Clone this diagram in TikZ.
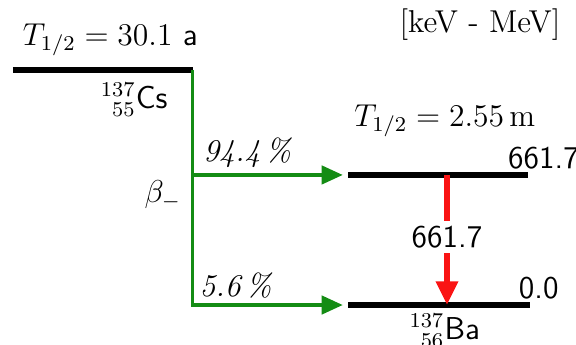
\documentclass[tikz,border=0pt]{standalone}
\usepackage{amsmath,amssymb}
\usepackage{tikz}
\usetikzlibrary{arrows.meta,positioning,calc}
\definecolor{betagreen}{RGB}{20,140,20}
\definecolor{gammared}{RGB}{250,20,20}

\begin{document}
\begin{tikzpicture}[
    every node/.style={font=\normalsize},
    level/.style={line width=2pt, black},
    betaline/.style={line width=1.2pt, betagreen, -{Triangle[length=8pt,width=7pt]}, shorten >=2pt},
    gammaline/.style={line width=2.4pt, gammared, -{Triangle[length=9pt,width=8pt]}}
]
\useasboundingbox (0,0) rectangle (7.68,4.6);

% Energy levels
\coordinate (csL) at (0.17,3.667);
\coordinate (csR) at (2.57,3.667);
\coordinate (ba1L) at (4.64,2.267);
\coordinate (ba1R) at (7.04,2.267);
\coordinate (ba0L) at (4.64,0.533);
\coordinate (ba0R) at (7.07,0.533);
\draw[level] (csL) -- (csR);
\draw[level] (ba1L) -- (ba1R);
\draw[level] (ba0L) -- (ba0R);

% Level labels
\node (csT) at (1.47,4.07) {\large $T_{1/2} = 30.1$ \textsf{a}};
\node (csN) at (1.79,3.27) {\large $^{137}_{\phantom{1}55}$\textsf{Cs}};
\node (baT) at (5.93,2.99) {\large $T_{1/2} = 2.55\,\mathrm{m}$};
\node (baN) at (5.93,0.19) {\large $^{137}_{\phantom{1}56}$\textsf{Ba}};
\node[anchor=south east, inner sep=1pt] (e1) at ($(ba1R)+(0.72,0.04)$) {\large\textsf{661.7}};
\node[anchor=south east, inner sep=1pt] (e0) at ($(ba0R)+(0.42,0.04)$) {\large\textsf{0.0}};
\node (unit) at (6.4,4.27) {\large [keV - MeV]};

% Beta branches
\draw[betaline] (csR) |- (ba0L);
\draw[betaline] (csR |- ba1L) -- (ba1L);
\node[anchor=south west, inner sep=1pt] (p1) at ($(csR |- ba1L)+(0.1,0.05)$) {\large\textit{94.4\,\%}};
\node[anchor=south west, inner sep=1pt] (p0) at ($(csR |- ba0L)+(0.05,0.05)$) {\large\textit{5.6\,\%}};
\node (beta) at (2.17,2.0) {\large $\beta_{-}$};

% Gamma transition
\coordinate (gTop) at (5.96,2.267);
\coordinate (gBot) at (5.96,0.533);
\draw[gammaline] (gTop) -- (gBot);
\node[fill=white, inner sep=2pt] (gLab) at (5.96,1.44) {\large\textsf{661.7}};
\end{tikzpicture}
\end{document}
